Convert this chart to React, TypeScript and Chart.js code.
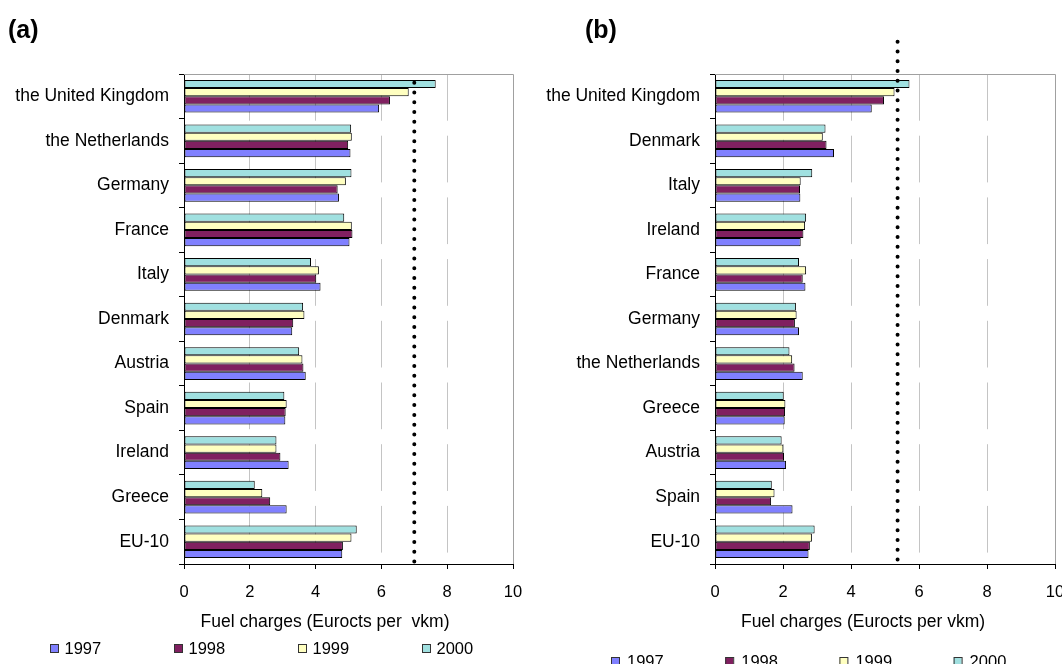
import React, { useEffect, useRef } from 'react';
import { Chart, registerables } from 'chart.js';

Chart.register(...registerables);

// ---- data ----
const YEARS = ['1997', '1998', '1999', '2000'];

const COUNTRIES_A = [
  'the United Kingdom', 'the Netherlands', 'Germany', 'France', 'Italy',
  'Denmark', 'Austria', 'Spain', 'Ireland', 'Greece', 'EU-10',
];
const A_1997 = [5.93, 5.06, 4.71, 5.03, 4.15, 3.29, 3.70, 3.08, 3.18, 3.12, 4.81];
const A_1998 = [6.26, 4.99, 4.67, 5.12, 4.02, 3.32, 3.63, 3.09, 2.93, 2.62, 4.83];
const A_1999 = [6.83, 5.10, 4.92, 5.10, 4.10, 3.66, 3.60, 3.12, 2.81, 2.38, 5.09];
const A_2000 = [7.65, 5.08, 5.09, 4.87, 3.86, 3.62, 3.50, 3.05, 2.81, 2.15, 5.25];
const A_REFERENCE = 7.0;

const COUNTRIES_B = [
  'the United Kingdom', 'Denmark', 'Italy', 'Ireland', 'France', 'Germany',
  'the Netherlands', 'Greece', 'Austria', 'Spain', 'EU-10',
];
const B_1997 = [4.61, 3.50, 2.51, 2.52, 2.66, 2.47, 2.58, 2.05, 2.09, 2.28, 2.75];
const B_1998 = [4.97, 3.28, 2.50, 2.60, 2.58, 2.35, 2.34, 2.06, 2.03, 1.65, 2.79];
const B_1999 = [5.28, 3.17, 2.52, 2.65, 2.68, 2.40, 2.27, 2.07, 2.01, 1.75, 2.85];
const B_2000 = [5.72, 3.25, 2.86, 2.68, 2.47, 2.38, 2.19, 2.02, 1.96, 1.67, 2.93];
const B_REFERENCE = 5.37;

const X_TICK_STEP = 2;
const X_MIN = 0;
const X_MAX = 10;

// ---- styling ----
const YEAR_COLORS = ['#8080FF', '#802060', '#FFFFC0', '#A0E0E0'];
const FONT = '"Liberation Sans", Arial, Helvetica, sans-serif';
const AXIS_TITLE = ['Fuel charges (Eurocts per  vkm)', 'Fuel charges (Eurocts per vkm)'];

type PanelLayout = {
  letter: string;
  letterX: number;
  padRight: number;
  titleX: number;
  dotTop: number;
  legendX: number;
  legendStep: number;
  legendTextGap: number;
  legendBaseline: number;
};

const panelDecor = {
  id: 'panelDecor',
  beforeDatasetsDraw(chart: any, _args: any, opts: any) {
    const { ctx, chartArea: a } = chart;
    ctx.save();
    ctx.strokeStyle = '#a0a0a0';
    ctx.lineWidth = 1;
    ctx.beginPath();
    ctx.moveTo(a.left, Math.round(a.top) + 0.5);
    ctx.lineTo(Math.round(a.right) + 0.5, Math.round(a.top) + 0.5);
    ctx.lineTo(Math.round(a.right) + 0.5, a.bottom);
    ctx.stroke();
    ctx.restore();
  },
  afterDatasetsDraw(chart: any, _args: any, opts: any) {
    const { ctx, chartArea: a } = chart;
    const x = chart.scales.x.getPixelForValue(opts.reference);
    ctx.save();
    ctx.strokeStyle = '#000';
    ctx.lineWidth = 4;
    ctx.lineCap = 'round';
    ctx.setLineDash([0, 9.77]);
    ctx.beginPath();
    ctx.moveTo(x, opts.layout.dotTop);
    ctx.lineTo(x, a.bottom - 1);
    ctx.stroke();
    ctx.restore();
  },
  afterDraw(chart: any, _args: any, opts: any) {
    const { ctx } = chart;
    const L: PanelLayout = opts.layout;
    ctx.save();
    ctx.fillStyle = '#000';
    ctx.textBaseline = 'alphabetic';
    // panel letter
    ctx.font = `bold 25px ${FONT}`;
    ctx.textAlign = 'left';
    ctx.fillText(L.letter, L.letterX, 38);
    // axis title
    ctx.font = `17.5px ${FONT}`;
    ctx.textAlign = 'center';
    ctx.fillText(opts.axisTitle, L.titleX, 627);
    // legend
    ctx.font = `16.5px ${FONT}`;
    ctx.textAlign = 'left';
    YEARS.forEach((yr, i) => {
      const sx = L.legendX + i * L.legendStep;
      const sy = L.legendBaseline - 10;
      ctx.fillStyle = YEAR_COLORS[i];
      ctx.fillRect(sx, sy, 8, 8);
      ctx.strokeStyle = '#333';
      ctx.lineWidth = 1;
      ctx.strokeRect(sx + 0.5, sy + 0.5, 8, 8);
      ctx.fillStyle = '#000';
      ctx.fillText(yr, sx + L.legendTextGap, L.legendBaseline);
    });
    ctx.restore();
  },
};

function buildConfig(
  labels: string[],
  series: number[][],
  reference: number,
  axisTitle: string,
  layout: PanelLayout,
): any {
  // newest year first so it sits on top inside each group
  const order = [3, 2, 1, 0];
  return {
    type: 'bar',
    data: {
      labels,
      datasets: order.map((i) => ({
        label: YEARS[i],
        data: series[i],
        backgroundColor: YEAR_COLORS[i],
        borderColor: '#000',
        borderWidth: 1,
        borderSkipped: false,
        barPercentage: 1,
        categoryPercentage: 0.734,
      })),
    },
    options: {
      indexAxis: 'y',
      animation: false,
      responsive: false,
      maintainAspectRatio: false,
      layout: { padding: { left: 0, right: layout.padRight, top: 74, bottom: 0 } },
      plugins: {
        legend: { display: false },
        title: { display: false },
        tooltip: { enabled: false },
        panelDecor: { reference, axisTitle, layout },
      },
      scales: {
        x: {
          type: 'linear',
          min: X_MIN,
          max: X_MAX,
          ticks: {
            stepSize: X_TICK_STEP,
            color: '#000',
            padding: 14,
            font: { family: FONT, size: 16.5 },
            maxRotation: 0,
          },
          grid: {
            color: (c: any) =>
              c.tick && (c.tick.value === X_MIN || c.tick.value === X_MAX)
                ? 'rgba(0,0,0,0)'
                : '#c4c4c4',
            tickColor: '#000',
            tickLength: 5,
            lineWidth: 1,
          },
          border: { color: '#000', width: 1, dash: [46.7, 15] },
          afterFit: (s: any) => {
            s.height = 100;
            s.paddingLeft = 0;
            s.paddingRight = 0;
          },
        },
        y: {
          type: 'category',
          offset: true,
          ticks: {
            color: '#000',
            padding: 10,
            autoSkip: false,
            font: { family: FONT, size: 17.5 },
          },
          grid: {
            offset: true,
            drawOnChartArea: false,
            color: '#000',
            tickColor: '#000',
            tickLength: 5,
          },
          border: { color: '#000', width: 1 },
          afterFit: (s: any) => {
            s.width = 184;
            s.paddingTop = 0;
            s.paddingBottom = 0;
          },
        },
      },
    },
    plugins: [panelDecor],
  };
}

function Panel(props: {
  labels: string[];
  series: number[][];
  reference: number;
  axisTitle: string;
  layout: PanelLayout;
  left: number;
}) {
  const ref = useRef<HTMLCanvasElement | null>(null);
  useEffect(() => {
    if (!ref.current) return;
    const chart = new Chart(
      ref.current,
      buildConfig(props.labels, props.series, props.reference, props.axisTitle, props.layout),
    );
    return () => chart.destroy();
  }, []);
  return (
    <canvas
      ref={ref}
      width={531}
      height={664}
      style={{ position: 'absolute', left: props.left, top: 0, width: 531, height: 664 }}
    />
  );
}

const LAYOUT_A: PanelLayout = {
  letter: '(a)',
  letterX: 8,
  padRight: 18,
  titleX: 325,
  dotTop: 82.7,
  legendX: 50,
  legendStep: 124,
  legendTextGap: 14.5,
  legendBaseline: 654,
};

const LAYOUT_B: PanelLayout = {
  letter: '(b)',
  letterX: 54,
  padRight: 7,
  titleX: 332,
  dotTop: 41.7,
  legendX: 80,
  legendStep: 114.2,
  legendTextGap: 16,
  legendBaseline: 667,
};

export default function App() {
  return (
    <div
      style={{
        position: 'fixed',
        left: 0,
        top: 0,
        width: 1062,
        height: 664,
        background: '#fff',
        overflow: 'hidden',
      }}
    >
      <Panel
        labels={COUNTRIES_A}
        series={[A_1997, A_1998, A_1999, A_2000]}
        reference={A_REFERENCE}
        axisTitle={AXIS_TITLE[0]}
        layout={LAYOUT_A}
        left={0}
      />
      <Panel
        labels={COUNTRIES_B}
        series={[B_1997, B_1998, B_1999, B_2000]}
        reference={B_REFERENCE}
        axisTitle={AXIS_TITLE[1]}
        layout={LAYOUT_B}
        left={531}
      />
    </div>
  );
}
